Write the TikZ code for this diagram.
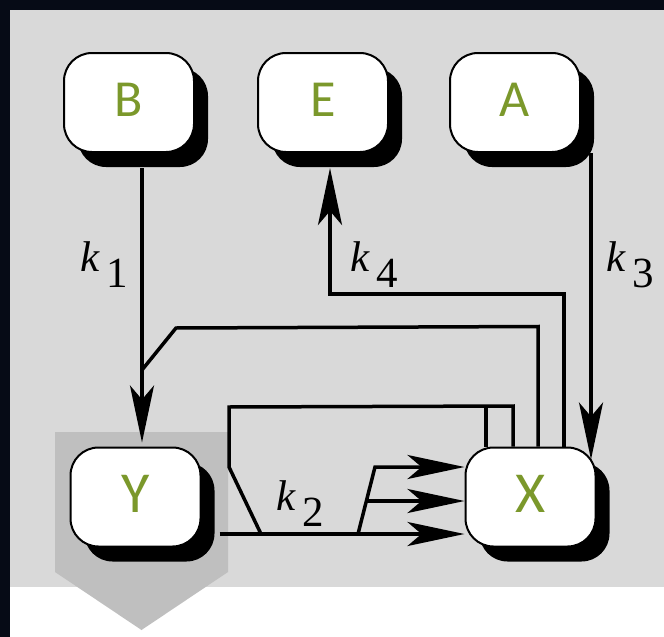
\documentclass[tikz,border=0pt]{standalone}
\usepackage{fontspec}
\newfontfamily\labfont{Carlito}
\newfontfamily\kfont{Liberation Serif}
\usetikzlibrary{arrows.meta,shadows,calc}
\definecolor{frame}{HTML}{060B16}
\definecolor{panel}{HTML}{D9D9D9}
\definecolor{pent}{HTML}{BFBFBF}
\definecolor{lettergreen}{HTML}{7B982B}
\begin{document}
\begin{tikzpicture}[x=1pt,y=-1pt,
  box/.style={draw=black, line width=2pt, fill=white, rounded corners=28pt,
    minimum width=130pt, minimum height=99pt, inner sep=0pt, text depth=6pt,
    font=\labfont\fontsize{52pt}{52pt}\selectfont, text=lettergreen,
    drop shadow={shadow xshift=14pt, shadow yshift=-15pt, fill=black, opacity=1}},
  bigbox/.style={box, font=\labfont\fontsize{58pt}{58pt}\selectfont},
  ln/.style={line width=3.5pt},
  arr/.style={ln, -{Stealth[length=57pt,width=24pt,inset=14pt]}},
  klab/.style={anchor=base west, inner sep=0pt, font=\kfont\fontsize{43pt}{43pt}\selectfont}]
% background
\fill[frame] (0,0) rectangle (664,637);
\fill[panel] (10,10) rectangle (664,587);
\fill[white] (10,587) rectangle (664,637);
\useasboundingbox (0,0) rectangle (664,637);
\fill[pent] (55,432) -- (228,432) -- (228,572) -- (141.5,630) -- (55,572) -- cycle;
% nodes
\node[box] (B) at (129,102.5) {B};
\node[box] (E) at (323,102.5) {E};
\node[box] (A) at (515,102.5) {A};
\node[bigbox] (Y) at (135.5,497) {Y};
\node[bigbox] (X) at (530.5,497) {X};
% k1
\coordinate (b1) at ($(B.south)+(13,15)$);
\draw[arr] (b1) -- ($(b1 |- Y.north)+(0,-4)$);
\draw[ln] ([xshift=7.5pt]X.north) -- ++(0,-120) -- (176,328) -- (142,370);
% k4
\coordinate (e1) at ($(E.south)+(7,15)$);
\draw[arr] ([xshift=33.5pt]X.north) -- ++(0,-152.5) -| (e1);
% k3
\coordinate (a1) at ($(A.south)+(76,0)$);
\draw[arr] (a1) -- ($(X.north)+(60.5,13)$);
% loop
\draw[ln] ([xshift=-17.5pt]X.north) -- ++(0,-40.5) -- (229,407) -- (229,467) -- (261,534);
\draw[ln] ([xshift=-44.5pt]X.north) -- ++(0,-40.5);
% k2
\coordinate (y1) at ($(Y.east)+(18,37)$);
\draw[arr] (y1) -- (y1 -| X.west);
\coordinate (t1) at (375,467);
\coordinate (t2) at (366,501);
\draw[arr] (358,534) -- (t1) -- (t1 -| X.west);
\draw[arr] (t2) -- (t2 -| X.west);
% labels
\node[klab] (k1) at (80,271) {{\itshape k}\hspace{7pt}\raisebox{-16pt}{1}};
\node[klab] (k4) at (350,271) {{\itshape k}\hspace{7pt}\raisebox{-16pt}{4}};
\node[klab] (k3) at (606,271) {{\itshape k}\hspace{7pt}\raisebox{-16pt}{3}};
\node[klab] (k2) at (276,510) {{\itshape k}\hspace{7pt}\raisebox{-16pt}{2}};
\end{tikzpicture}
\end{document}
